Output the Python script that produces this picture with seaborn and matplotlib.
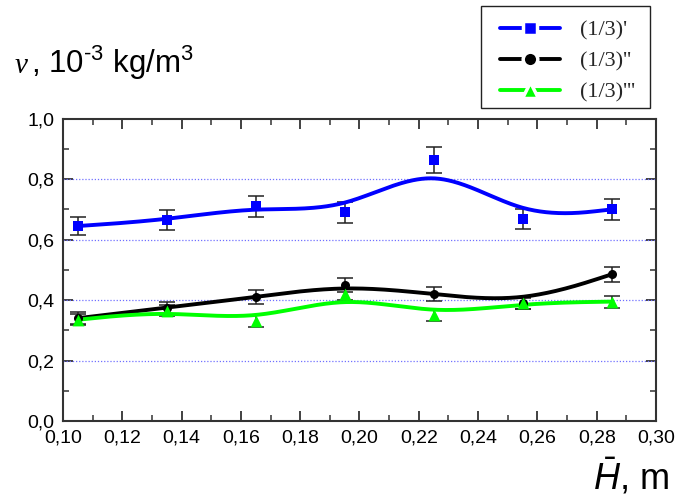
import numpy as np
import pandas as pd
import matplotlib
matplotlib.use("Agg")
import matplotlib.pyplot as plt
from matplotlib.lines import Line2D
from matplotlib.patches import Rectangle
from matplotlib.ticker import MultipleLocator, FuncFormatter
import seaborn as sns

# Measured values
h_bar = [0.105, 0.135, 0.165, 0.195, 0.225, 0.255, 0.285]
nu_1 = [0.645, 0.665, 0.710, 0.690, 0.865, 0.667, 0.700]
nu_1_err = [0.030, 0.033, 0.035, 0.035, 0.043, 0.033, 0.035]
nu_2 = [0.340, 0.375, 0.410, 0.450, 0.420, 0.390, 0.485]
nu_2_err = [0.020, 0.020, 0.022, 0.022, 0.022, 0.020, 0.025]
nu_3 = [0.335, 0.365, 0.330, 0.420, 0.350, 0.390, 0.395]
nu_3_err = [0.018, 0.018, 0.020, 0.020, 0.020, 0.018, 0.020]
series_labels = ["(1/3)'", "(1/3)''", "(1/3)'''"]


def bspline_curve(x, y, per_seg=60):
    """Uniform cubic B-spline with tripled end points as control polygon."""
    px = np.concatenate([[x[0]] * 2, x, [x[-1]] * 2]).astype(float)
    py = np.concatenate([[y[0]] * 2, y, [y[-1]] * 2]).astype(float)
    t = np.linspace(0, 1, per_seg, endpoint=False)
    b0 = (1 - t) ** 3 / 6
    b1 = (3 * t ** 3 - 6 * t ** 2 + 4) / 6
    b2 = (-3 * t ** 3 + 3 * t ** 2 + 3 * t + 1) / 6
    b3 = t ** 3 / 6
    cx, cy = [], []
    for i in range(len(px) - 3):
        cx.append(b0 * px[i] + b1 * px[i + 1] + b2 * px[i + 2] + b3 * px[i + 3])
        cy.append(b0 * py[i] + b1 * py[i + 1] + b2 * py[i + 2] + b3 * py[i + 3])
    cx.append([x[-1]])
    cy.append([y[-1]])
    return np.concatenate(cx), np.concatenate(cy)


sns.set_theme(style="ticks")
plt.rcParams["font.family"] = ["Liberation Sans", "DejaVu Sans"]
plt.rcParams["mathtext.fontset"] = "custom"
plt.rcParams["mathtext.rm"] = "Liberation Sans"
plt.rcParams["mathtext.it"] = "Liberation Sans:italic"
plt.rcParams["mathtext.bf"] = "Liberation Sans:bold"

fig = plt.figure(figsize=(6.77, 4.97), dpi=100)
ax = fig.add_axes([0.093, 0.153, 0.876, 0.608])

series = [
    (nu_1, nu_1_err, "#0000ff", "s", 6.5, series_labels[0]),
    (nu_2, nu_2_err, "#000000", "o", 6.5, series_labels[1]),
    (nu_3, nu_3_err, "#00ff00", "^", 8.5, series_labels[2]),
]

for vals, err, col, mk, ms, lab in series:
    cx, cy = bspline_curve(h_bar, vals)
    sns.lineplot(x=cx, y=cy, ax=ax, color=col, linewidth=2.8, sort=False,
                 estimator=None, zorder=3)
    ax.errorbar(h_bar, vals, yerr=err, fmt="none", ecolor="#222222",
                elinewidth=1.1, capsize=5.5, capthick=1.1, zorder=2)
    df = pd.DataFrame({"h": h_bar, "v": vals})
    sns.scatterplot(data=df, x="h", y="v", ax=ax, marker=mk, color=col,
                    s=ms ** 2, edgecolor=col, linewidth=0, zorder=4)

ax.set_xlim(0.10, 0.30)
ax.set_ylim(0.0, 1.0)
ax.xaxis.set_major_locator(MultipleLocator(0.02))
ax.xaxis.set_minor_locator(MultipleLocator(0.01))
ax.yaxis.set_major_locator(MultipleLocator(0.2))
ax.yaxis.set_minor_locator(MultipleLocator(0.1))
ax.xaxis.set_major_formatter(FuncFormatter(lambda v, p: f"{v:.2f}".replace(".", ",")))
ax.yaxis.set_major_formatter(FuncFormatter(lambda v, p: f"{v:.1f}".replace(".", ",")))

for yv in [0.2, 0.4, 0.6, 0.8]:
    ax.axhline(yv, color="#7070ff", linestyle=(0, (1, 1.5)), linewidth=0.9, zorder=1)

for sp in ax.spines.values():
    sp.set_visible(True)
    sp.set_color("#333333")
    sp.set_linewidth(1.5)

ax.tick_params(which="both", direction="in", top=True, right=True,
               color="#333333", labelcolor="black", labelsize=14, pad=6)
ax.tick_params(which="major", length=7, width=1.3)
ax.tick_params(which="minor", length=4, width=1.1)
ax.set_xlabel("")
ax.set_ylabel("")

# y-axis title: serif italic nu followed by sans units
fig.text(0.022, 0.853, "ν", fontsize=21, ha="left", va="baseline",
         family="Liberation Serif", style="italic", color="black")
fig.text(0.046, 0.853, r", 10$^{\text{-3}}$ kg/m$^{\mathrm{3}}$",
         fontsize=22.5, ha="left", va="baseline", color="black")
fig.text(0.988, 0.016, r"$\bar{H}$, m", fontsize=26, ha="right", va="baseline",
         color="black")

# legend: line segments with a white gap around each marker
handles = [Line2D([0], [0], color=c, marker=m, markersize=ms * 0.85 + 5,
                  markerfacecolor=c, markeredgecolor="white", markeredgewidth=2.5,
                  linewidth=2.8)
           for _, _, c, m, ms, _ in series]
leg = fig.legend(handles, series_labels, loc="upper left",
                 bbox_to_anchor=(0.738, 0.960), frameon=False,
                 handlelength=2.7, handletextpad=0.9, borderpad=0.0,
                 labelspacing=0.48, borderaxespad=0,
                 prop={"family": "Liberation Serif", "size": 16})
fig.add_artist(Rectangle((481 / 677, 1 - 108 / 497), (650 - 481) / 677, 102 / 497,
                         transform=fig.transFigure, fill=False,
                         edgecolor="#222222", linewidth=1.0))

fig.savefig("out.png", dpi=100)
